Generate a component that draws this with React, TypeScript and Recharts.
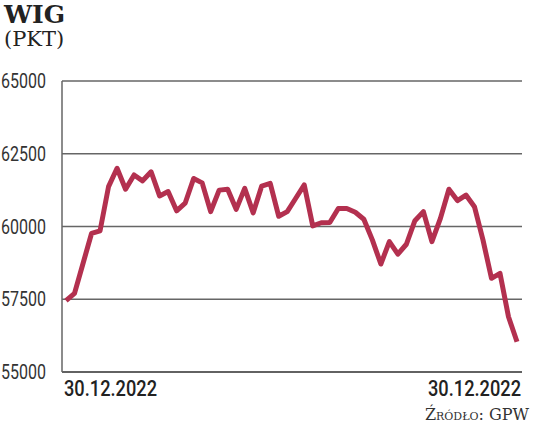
import React from "react";
import { LineChart, Line, XAxis, YAxis, CartesianGrid } from "recharts";

const values = [
  57450, 57700, 58730, 59760, 59850, 61370, 62000, 61280, 61770, 61570,
  61880, 61050, 61200, 60540, 60800, 61650, 61500, 60510, 61250, 61280,
  60590, 61310, 60470, 61390, 61480, 60350, 60510, 60970, 61430, 60020,
  60130, 60140, 60620, 60620, 60490, 60250, 59540, 58710, 59480, 59050,
  59390, 60200, 60510, 59480, 60280, 61280, 60890, 61080, 60680, 59540,
  58220, 58390, 56900, 56040,
];
const dateLabels = ["30.12.2022", "30.12.2022"];
const yTicks = [55000, 57500, 60000, 62500, 65000];

const data = values.map((v, i) => ({ i, wig: v }));
const lastIndex = values.length - 1;

const sans = "Roboto, 'DejaVu Sans Condensed', sans-serif";
const serif = "'DejaVu Serif', 'Liberation Serif', serif";

// the reference uses a narrow DIN-like face, so squeeze the text to its width
const DateTick = (props: any) => {
  const { x, y, payload } = props;
  const first = payload.value === 0;
  return (
    <text
      x={first ? x - 2 : x + 4}
      y={y + 16}
      textAnchor={first ? "start" : "end"}
      fontFamily={sans}
      fontWeight={500}
      fontSize={22}
      fill="#222"
      textLength={93}
      lengthAdjust="spacingAndGlyphs"
    >
      {first ? dateLabels[0] : dateLabels[1]}
    </text>
  );
};

const ValueTick = (props: any) => {
  const { x, y, payload } = props;
  return (
    <text
      x={x}
      y={y + 7}
      textAnchor="end"
      fontFamily={sans}
      fontSize={20}
      fill="#333"
      textLength={45}
      lengthAdjust="spacingAndGlyphs"
    >
      {payload.value}
    </text>
  );
};

export default function App() {
  return (
    <div
      style={{
        position: "absolute",
        left: 0,
        top: 0,
        width: 536,
        height: 428,
        background: "#fff",
      }}
    >
      <div
        style={{
          position: "absolute",
          left: 4,
          top: 0,
          fontFamily: serif,
          fontWeight: "bold",
          fontSize: 25,
          color: "#222",
        }}
      >
        WIG
      </div>
      <div
        style={{
          position: "absolute",
          left: 4,
          top: 27,
          fontFamily: serif,
          fontSize: 21,
          color: "#222",
        }}
      >
        (PKT)
      </div>
      <LineChart
        width={536}
        height={428}
        data={data}
        margin={{ top: 81, right: 14, bottom: 26, left: 0 }}
      >
        <CartesianGrid vertical={false} stroke="#666" strokeWidth={1.5} />
        <XAxis
          dataKey="i"
          type="number"
          height={30}
          domain={[0, lastIndex]}
          ticks={[0, lastIndex]}
          padding={{ left: 4, right: 5 }}
          tick={<DateTick />}
          tickLine={false}
          axisLine={{ stroke: "#555", strokeWidth: 1.5 }}
          interval={0}
        />
        <YAxis
          width={62}
          domain={[55000, 65000]}
          ticks={yTicks}
          tickLine={false}
          tickMargin={10}
          axisLine={{ stroke: "#666", strokeWidth: 1.5 }}
          tick={<ValueTick />}
        />
        <Line
          type="linear"
          dataKey="wig"
          stroke="#b3304f"
          strokeWidth={5}
          strokeLinejoin="round"
          dot={false}
          isAnimationActive={false}
        />
      </LineChart>
      <div
        style={{
          position: "absolute",
          right: 7,
          top: 405,
          fontFamily: serif,
          fontVariant: "small-caps",
          fontSize: 16,
          color: "#333",
        }}
      >
        Źródło: GPW
      </div>
    </div>
  );
}
